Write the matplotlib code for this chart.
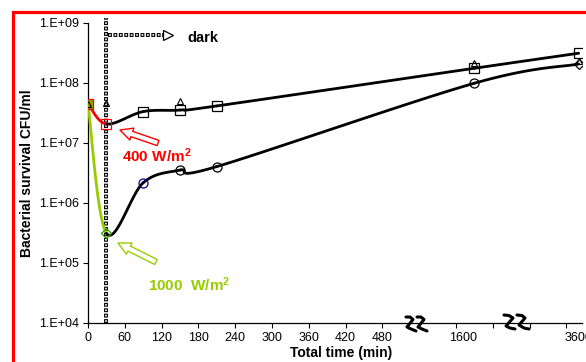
import numpy as np
import matplotlib
matplotlib.use('Agg')
import matplotlib.pyplot as plt
import matplotlib.transforms as mtrans
from matplotlib.patches import Rectangle
from matplotlib.lines import Line2D

plt.rcParams['font.family'] = ['Liberation Sans', 'DejaVu Sans']
plt.rcParams['lines.scale_dashes'] = False
plt.rcParams['mathtext.fontset'] = 'custom'
plt.rcParams['mathtext.rm'] = 'Liberation Sans:bold'
plt.rcParams['mathtext.bf'] = 'Liberation Sans:bold'
plt.rcParams['mathtext.default'] = 'bf'

# ---------------- data ----------------
time_min = [0, 30, 90, 150, 210, 1800, 3600]
cfu_400 = [4.5e7, 2.05e7, 3.3e7, 3.5e7, 4.1e7, 1.74e8, 3.1e8]
cfu_1000 = [4.5e7, 3.1e5, 2.15e6, 3.5e6, 4.0e6, 9.8e7, 2.05e8]
tri_time = [0, 30, 150, 1800, 3600]
tri_cfu = [4.5e7, 4.6e7, 5.0e7, 2.1e8, 2.3e8]
dark_start = 30
x_tick_values = [0, 60, 120, 180, 240, 300, 360, 420, 480]
x_far_labels = [1600, 3600]
y_ticks = [1e4, 1e5, 1e6, 1e7, 1e8, 1e9]
y_tick_labels = ['1.E+04', '1.E+05', '1.E+06', '1.E+07', '1.E+08', '1.E+09']

GREEN = '#99CC00'
RED = '#FF0000'

# broken time axis (compressed after 540 min)
T_BREAK = [-1000, 0, 540, 1600, 3600, 5600]
P_BREAK = [-1000, 0, 540, 611, 800, 989]


def fwd(t):
    return np.interp(t, T_BREAK, P_BREAK)


def inv(p):
    return np.interp(p, P_BREAK, T_BREAK)


W, H = 586, 362
fig = plt.figure(figsize=(W / 100, H / 100), dpi=100)
ax = fig.add_axes([88 / W, 1 - 322.7 / H, 494 / W, 300 / H])
ax.set_xscale('function', functions=(fwd, inv))
ax.set_yscale('log')

PX_PER_POS = 36.8 / 60.0
PX_PER_DEC = 60.0


def smooth_segments(ts, vs, n=40):
    """Excel-like smoothed line (Bezier through points, in screen space)."""
    X = fwd(np.asarray(ts, float)) * PX_PER_POS
    Y = np.log10(np.asarray(vs, float)) * PX_PER_DEC
    P = np.column_stack([X, Y])
    segs = []
    s = np.linspace(0, 1, n)[:, None]
    for i in range(len(P) - 1):
        p0 = P[i - 1] if i > 0 else P[i]
        p3 = P[i + 2] if i + 2 < len(P) else P[i + 1]
        p1, p2 = P[i], P[i + 1]
        c1 = p1 + (p2 - p0) / 6.0
        c2 = p2 - (p3 - p1) / 6.0
        B = (1 - s) ** 3 * p1 + 3 * (1 - s) ** 2 * s * c1 + 3 * (1 - s) * s ** 2 * c2 + s ** 3 * p2
        segs.append((inv(B[:, 0] / PX_PER_POS), 10 ** (B[:, 1] / PX_PER_DEC)))
    return segs


LW = 2.0
seg400 = smooth_segments(time_min, cfu_400)
seg1000 = smooth_segments(time_min, cfu_1000)
ax.plot(*seg400[0], color=RED, lw=LW, zorder=3)
for sx, sy in seg400[1:]:
    ax.plot(sx, sy, color='black', lw=LW, zorder=3, solid_capstyle='round')
ax.plot(*seg1000[0], color=GREEN, lw=LW, zorder=3)
for sx, sy in seg1000[1:]:
    ax.plot(sx, sy, color='black', lw=LW, zorder=3, solid_capstyle='round')

# markers
ax.plot(time_min[2:], cfu_400[2:], ls='none', marker='s', ms=6.5, mfc='none', mec='black', mew=0.9, zorder=4)
ax.plot(time_min[0], cfu_400[0], ls='none', marker='s', ms=6.5, mfc='#8FA000', mec=RED, mew=0.9, zorder=4)
ax.plot(time_min[1], cfu_400[1], ls='none', marker='s', ms=6.5, mfc='none', mec=RED, mew=0.9, zorder=4)
ax.plot(time_min[3:6], cfu_1000[3:6], ls='none', marker='o', ms=6.5, mfc='none', mec='black', mew=0.9, zorder=4)
ax.plot(time_min[2], cfu_1000[2], ls='none', marker='o', ms=6.5, mfc='none', mec='#000099', mew=0.9, zorder=4)
ax.plot(time_min[1], cfu_1000[1], ls='none', marker='D', ms=5.5, mfc='none', mec='#339900', mew=0.9, zorder=4)
ax.plot(time_min[6], cfu_1000[6], ls='none', marker='D', ms=5.5, mfc='none', mec='black', mew=0.9, zorder=4)
ax.plot(tri_time, tri_cfu, ls='none', marker='^', ms=4, mfc='none', mec='black', mew=0.8, zorder=5)

# axes styling
ax.set_ylim(1e4, 1e9)
ax.set_xlim(0, inv(805.4))
for sp in ['top', 'right']:
    ax.spines[sp].set_visible(False)
for sp in ['left', 'bottom']:
    ax.spines[sp].set_linewidth(0.9)
ax.set_yticks(y_ticks)
ax.set_yticklabels(y_tick_labels)
ax.yaxis.set_minor_locator(matplotlib.ticker.NullLocator())

major_pos = np.arange(0, 781, 60)
major_t = inv(major_pos)
major_lbl = [str(v) for v in x_tick_values] + [''] * (len(major_t) - len(x_tick_values))
ax.set_xticks(major_t)
ax.set_xticklabels(major_lbl)
ax.set_xticks(x_far_labels, minor=True)
ax.set_xticklabels([str(v) for v in x_far_labels], minor=True)
ax.tick_params(which='major', direction='out', length=3.5, width=0.8, labelsize=9, pad=3)
ax.tick_params(which='minor', length=0, labelsize=9, pad=6.5)
ax.tick_params(axis='y', pad=3)

ax.set_ylabel('Bacterial survival CFU/ml', fontsize=10, fontweight='bold')
ax.yaxis.set_label_coords((27 - 88) / 494, 0.5)
ax.yaxis.label.set_va('center')
ax.set_xlabel('Total time (min)', fontsize=10, fontweight='bold')
ax.xaxis.set_label_coords((341 - 88) / 494, (322.7 - 353) / 300)
ax.xaxis.label.set_va('center')

# dotted "dark" marker line (hollow small squares)
trans_v = ax.get_xaxis_transform()
ytop = (322.7 - 18) / 300
ax.plot([dark_start, dark_start], [0, ytop], transform=trans_v, color='black', lw=2.8,
        ls=(0, (2.8, 1.1)), clip_on=False, zorder=2)
ax.plot([dark_start, dark_start], [0, ytop], transform=trans_v, color='white', lw=1.2,
        ls=(3.1, (1.2, 2.7)), clip_on=False, zorder=2)

trans_h = mtrans.blended_transform_factory(ax.transData, ax.transAxes)
yh = (322.7 - 35) / 300
ax.plot([33, 124], [yh, yh], transform=trans_h, color='black', lw=2.8,
        ls=(0, (2.8, 1.1)), clip_on=False, zorder=2)
ax.plot([33, 124], [yh, yh], transform=trans_h, color='white', lw=1.2,
        ls=(3.1, (1.2, 2.7)), clip_on=False, zorder=2)
ax.plot([131], [yh], transform=trans_h, marker='>', ms=7, mfc='white', mec='black', mew=0.9,
        clip_on=False, zorder=3)


def fp(x, y):
    return (x / W, 1 - y / H)


fig.text(*fp(187, 38), 'dark', fontsize=10.5, fontweight='bold', va='center', ha='left')
fig.text(*fp(122, 156), r'400 W/m$^{2}$', fontsize=11, fontweight='bold', color=RED,
         va='center', ha='left')
fig.text(*fp(148, 285), r'1000  W/m$^{2}$', fontsize=11, fontweight='bold', color=GREEN,
         va='center', ha='left')

arrow_style = 'simple,head_length=9,head_width=9,tail_width=4'
ax.annotate('', xy=fp(120, 130), xytext=fp(158, 143), xycoords='figure fraction',
            textcoords='figure fraction',
            arrowprops=dict(arrowstyle=arrow_style, mutation_scale=1, fc='white', ec=RED, lw=1,
                            shrinkA=0, shrinkB=0))
ax.annotate('', xy=fp(118, 243), xytext=fp(156, 262), xycoords='figure fraction',
            textcoords='figure fraction',
            arrowprops=dict(arrowstyle=arrow_style, mutation_scale=1, fc='white', ec=GREEN, lw=1,
                            shrinkA=0, shrinkB=0))

# axis-break glyphs (hand-drawn "zz")
breaks = [
    [(406, 317), (410, 317), (413, 319.5), (407, 327), (411, 329), (416, 331)],
    [(417, 317), (421, 317), (424, 319.5), (418, 327), (422, 329), (427, 331)],
    [(504, 315), (509, 315.5), (513, 318), (506, 326), (510, 328), (515, 329)],
    [(517, 315), (522, 315.5), (525, 318), (519, 325), (524, 328), (529, 329)],
]
for pts in breaks:
    xs = [p[0] / W for p in pts]
    ys = [1 - p[1] / H for p in pts]
    fig.add_artist(Line2D(xs, ys, transform=fig.transFigure, color='black', lw=2.2,
                          solid_capstyle='round', solid_joinstyle='round', zorder=10))

# red frame
fig.add_artist(Rectangle((13.3 / W, -0.2), 1.2, 1 - 11.7 / H + 0.2, transform=fig.transFigure,
                         fill=False, ec=RED, lw=2.3, clip_on=False, zorder=20))

fig.savefig('out.png', dpi=100)
